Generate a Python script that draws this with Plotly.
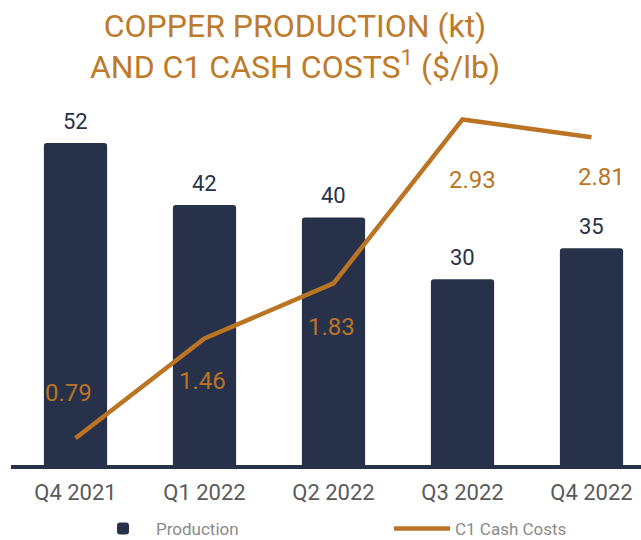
import plotly.graph_objects as go

quarters = ["Q4 2021", "Q1 2022", "Q2 2022", "Q3 2022", "Q4 2022"]
production_kt = [52, 42, 40, 30, 35]
c1_cash_costs = [0.79, 1.46, 1.83, 2.93, 2.81]

# label placement offsets (pixels) for the cost labels
cost_dx = [-7, -2, -2, 10, 10]
cost_dy = [45, -42, -44, -61, -40]

NAVY = "#27314A"
ORANGE = "#BA7424"
TITLE_ORANGE = "#BD7B2B"
FONT = "Roboto, 'Noto Sans', sans-serif"

fig = go.Figure()
fig.add_bar(
    x=quarters, y=production_kt, name="Production",
    marker=dict(color=NAVY, cornerradius=3, line=dict(width=0)),
    width=0.49,
)
fig.add_scatter(
    x=quarters, y=c1_cash_costs, name="C1 Cash Costs", mode="lines",
    line=dict(color=ORANGE, width=4.5), yaxis="y2",
)

annotations = []
for q, v in zip(quarters, production_kt):
    annotations.append(dict(
        x=q, y=v, xref="x", yref="y", text=str(v), showarrow=False,
        yanchor="middle", yshift=22, font=dict(family=FONT, size=22, color=NAVY),
    ))
for q, v, dx, dy in zip(quarters, c1_cash_costs, cost_dx, cost_dy):
    annotations.append(dict(
        x=q, y=v, xref="x", yref="y2", text=f"{v:.2f}", showarrow=False,
        yanchor="middle", xshift=dx, yshift=dy,
        font=dict(family=FONT, size=24, color=ORANGE),
    ))

fig.update_layout(
    width=641, height=540,
    margin=dict(l=11, r=0, t=80, b=75, autoexpand=False),
    paper_bgcolor="white", plot_bgcolor="white",
    title=dict(
        text="COPPER PRODUCTION (kt)<br>AND C1 CASH COSTS<sup>1</sup> ($/lb)",
        x=295 / 641, xanchor="center", xref="container",
        y=0.932, yanchor="top", yref="container",
        font=dict(family=FONT, size=32, color=TITLE_ORANGE),
    ),
    xaxis=dict(
        range=[-0.5, -0.5 + 630 / 129], showgrid=False, zeroline=False,
        showline=True, linecolor=NAVY, linewidth=4, ticks="",
        ticklabelstandoff=5,
        tickfont=dict(family=FONT, size=22, color="#5A5A5A"),
    ),
    yaxis=dict(range=[0, 385 / 6.19], visible=False, showgrid=False),
    yaxis2=dict(range=[0.611, 0.611 + 385 / 149], overlaying="y",
                visible=False, showgrid=False),
    showlegend=True,
    legend=dict(
        orientation="h", xref="container", yref="container",
        x=90 / 641, xanchor="left", y=11 / 540, yanchor="middle",
        entrywidth=228, entrywidthmode="pixels",
        font=dict(family=FONT, size=17, color="#8A8A8A"),
        itemwidth=56, tracegroupgap=0,
    ),
    annotations=annotations,
    bargap=0.5,
)

fig.write_html(
    "out.html",
    config={"displayModeBar": False},
    post_script="document.body.style.margin='0';document.body.style.overflow='hidden';",
)
